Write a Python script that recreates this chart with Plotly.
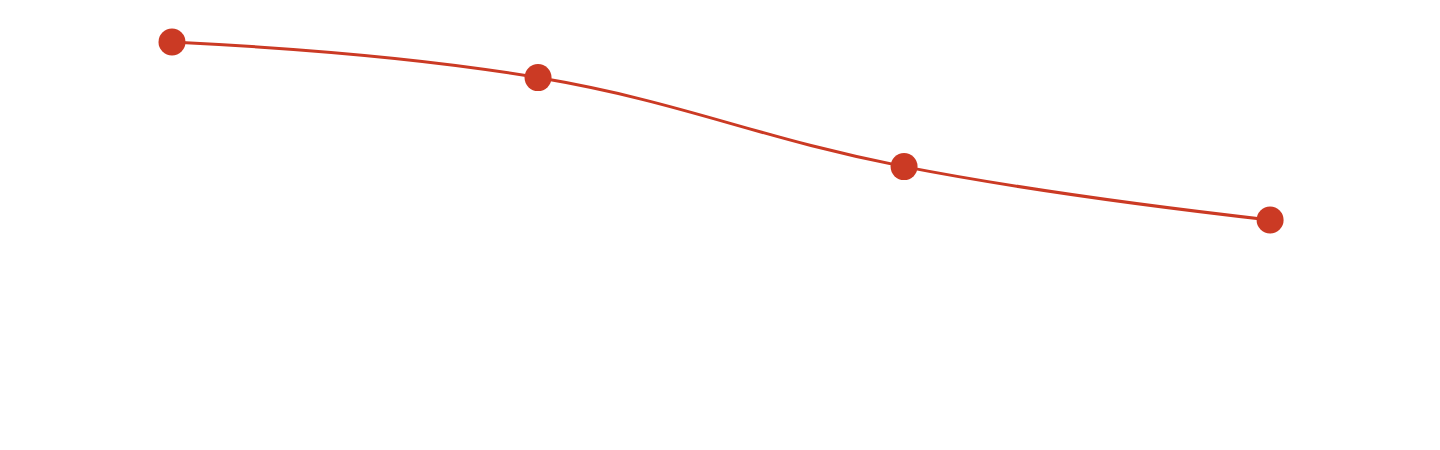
import plotly.graph_objects as go

etapas = ["A", "B", "C", "D"]
valores = [100, 90, 65, 50]

fig = go.Figure()
fig.add_trace(
    go.Scatter(
        x=list(range(len(etapas))),
        y=valores,
        mode="lines+markers",
        line=dict(color="#cb3a24", width=3, shape="spline", smoothing=1.2),
        marker=dict(color="#cb3a24", size=27),
        hoverinfo="y",
    )
)

# the page puts the figure about 7px in from the corner, so the ranges absorb that
fig.update_layout(
    width=1440,
    height=450,
    margin=dict(l=0, r=0, t=0, b=0),
    paper_bgcolor="white",
    plot_bgcolor="white",
    showlegend=False,
    xaxis=dict(visible=False, range=[-0.448, 3.486]),
    yaxis=dict(visible=False, range=[-16.85, 109.55]),
)

fig.write_html("out.html")
